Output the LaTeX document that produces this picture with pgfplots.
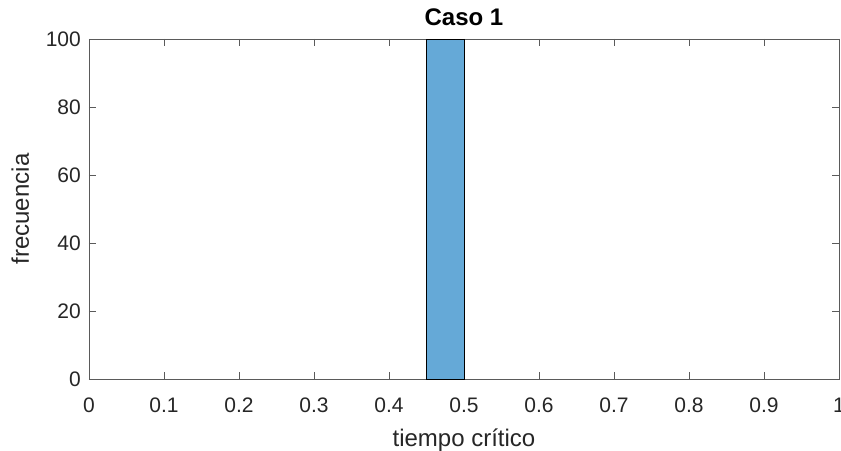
\documentclass[border=0pt]{standalone}
\usepackage{pgfplots}
\pgfplotsset{compat=1.18}
\usepackage{fontspec}
\setmainfont{Liberation Sans}
\definecolor{barblue}{RGB}{101,169,215}
\definecolor{axgrey}{RGB}{38,38,38}
\definecolor{lingrey}{RGB}{90,90,90}
\begin{document}
\begin{tikzpicture}
\begin{axis}[
  name=ax,
  scale only axis,
  width=750pt, height=340pt,
  xmin=0, xmax=1, ymin=0, ymax=100,
  xtick={0,0.1,...,1},
  xticklabels={0,0.1,0.2,0.3,0.4,0.5,0.6,0.7,0.8,0.9,1},
  ytick={0,20,...,100},
  tick align=inside,
  major tick length=7pt,
  axis line style={lingrey, line width=0.8pt},
  every tick/.style={lingrey, line width=0.8pt},
  tick label style={font=\fontsize{21}{23}\selectfont, text=axgrey},
  xticklabel style={inner sep=2pt, yshift=-17pt},
  yticklabel style={inner sep=2pt, xshift=-6pt},
  /pgf/number format/assume math mode=true,
  xlabel={tiempo crítico},
  ylabel={frecuencia},
  label style={font=\fontsize{24}{26}\selectfont, text=axgrey},
  title={\textbf{Caso 1}},
  title style={font=\fontsize{24}{26}\selectfont, yshift=4pt},
  xlabel style={yshift=-10pt},
  ylabel style={yshift=11pt},
]
\addplot[ybar interval, fill=barblue, draw=black, line width=0.9pt] coordinates {(0.45,100) (0.5,100)};
\end{axis}
\pgfresetboundingbox
\path ([shift={(-89pt,-71pt)}]ax.south west) rectangle ([shift={(2pt,39pt)}]ax.north east);
\end{tikzpicture}
\end{document}
